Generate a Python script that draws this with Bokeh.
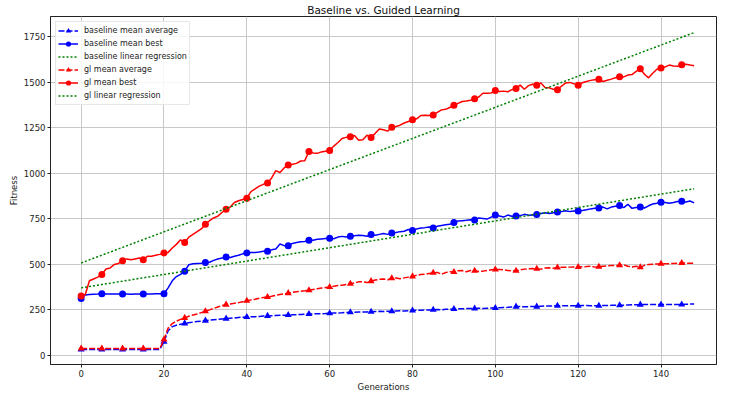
from bokeh.plotting import figure
from bokeh.models import FixedTicker, Range1d
from bokeh.embed import file_html
from bokeh.resources import INLINE

generations = list(range(149))

baseline_mean_average = [
    33, 33, 33, 33, 33, 33, 33, 33, 33, 33, 33, 33, 33, 33, 33, 33, 33, 33, 33, 33,
    75, 135, 158, 166, 171, 176, 180, 183, 186, 188, 191, 194, 196, 198, 200, 202, 204, 206, 208, 210,
    211, 212, 213, 214, 216, 217, 218, 219, 220, 221, 222, 223, 224, 225, 226, 227, 228, 229, 229, 230,
    232, 233, 233, 234, 236, 237, 237, 238, 239, 239, 240, 241, 242, 241, 243, 243, 244, 245, 244, 246,
    247, 248, 248, 249, 250, 251, 252, 251, 253, 254, 255, 256, 256, 257, 257, 258, 259, 258, 259, 260,
    260, 262, 263, 264, 266, 268, 268, 267, 268, 268, 268, 270, 271, 272, 272, 273, 273, 273, 273, 273,
    273, 274, 274, 273, 273, 273, 274, 274, 275, 275, 275, 276, 277, 278, 278, 279, 279, 279, 279, 279,
    279, 280, 280, 280, 280, 280, 281, 282, 282,
]

baseline_mean_best = [
    313, 332, 335, 336, 337, 339, 338, 337, 338, 337, 338, 337, 336, 337, 338, 337, 338, 338, 339, 339,
    339, 371, 410, 433, 445, 463, 498, 503, 505, 506, 510, 512, 522, 530, 535, 540, 538, 545, 550, 558,
    563, 565, 566, 568, 572, 572, 580, 585, 612, 603, 602, 615, 620, 625, 626, 632, 633, 638, 640, 642,
    643, 641, 650, 654, 650, 655, 657, 660, 659, 655, 664, 660, 665, 670, 665, 673, 675, 680, 682, 692,
    686, 695, 700, 702, 705, 700, 710, 714, 718, 720, 730, 738, 740, 742, 745, 744, 755, 752, 749, 760,
    771, 766, 760, 771, 765, 766, 768, 775, 770, 772, 774, 780, 784, 780, 784, 788, 790, 795, 790, 793,
    794, 796, 800, 805, 808, 810, 815, 805, 815, 820, 824, 812, 830, 808, 812, 815, 810, 822, 832, 836,
    842, 840, 836, 840, 845, 847, 843, 848, 838,
]

gl_mean_average = [
    38, 38, 38, 38, 38, 38, 38, 38, 38, 38, 38, 38, 38, 38, 38, 38, 38, 38, 38, 38,
    87, 150, 175, 188, 198, 206, 215, 222, 228, 235, 243, 250, 258, 266, 274, 279, 283, 286, 290, 295,
    300, 305, 309, 314, 318, 321, 325, 330, 334, 338, 342, 346, 350, 353, 355, 358, 362, 366, 370, 373,
    376, 380, 384, 386, 390, 394, 398, 404, 405, 400, 408, 414, 418, 420, 416, 424, 425, 421, 426, 430,
    434, 440, 444, 446, 450, 454, 456, 446, 455, 460, 458, 465, 466, 460, 466, 465, 461, 463, 467, 470,
    472, 472, 470, 467, 464, 465, 470, 474, 476, 477, 476, 474, 480, 481, 479, 483, 484, 484, 485, 486,
    486, 487, 488, 490, 485, 487, 490, 492, 494, 494, 495, 497, 490, 486, 490, 484, 495, 500, 501, 502,
    504, 503, 504, 505, 506, 508, 507, 506, 507,
]

gl_mean_best = [
    327, 335, 410, 420, 430, 445, 475, 480, 500, 505, 520, 530, 525, 530, 535, 525, 545, 545, 550, 555,
    563, 566, 590, 610, 635, 620, 650, 665, 680, 695, 721, 740, 755, 765, 785, 803, 815, 840, 850, 857,
    864, 900, 915, 930, 940, 947, 975, 1015, 1005, 1030, 1046, 1050, 1055, 1068, 1070, 1120, 1112, 1110, 1118, 1122,
    1126, 1150, 1170, 1192, 1198, 1202, 1208, 1182, 1185, 1210, 1197, 1220, 1244, 1240, 1232, 1254, 1258, 1265, 1277, 1285,
    1295, 1300, 1318, 1320, 1318, 1321, 1335, 1349, 1352, 1362, 1375, 1385, 1395, 1398, 1402, 1410, 1420, 1440, 1440, 1442,
    1455, 1450, 1452, 1448, 1460, 1467, 1485, 1462, 1482, 1490, 1484, 1497, 1472, 1470, 1462, 1460, 1480, 1497, 1500, 1492,
    1484, 1498, 1505, 1511, 1515, 1517, 1505, 1512, 1518, 1525, 1531, 1530, 1540, 1543, 1560, 1575, 1545, 1525, 1550, 1572,
    1579, 1585, 1595, 1590, 1588, 1597, 1600, 1595, 1591,
]

# linear regression lines: (intercept, slope)
baseline_regression = (371, 3.68)
gl_regression = (508, 8.55)

x_ticks = [0, 20, 40, 60, 80, 100, 120, 140]
y_ticks = [0, 250, 500, 750, 1000, 1250, 1500, 1750]
marker_step = 5

FONT = "DejaVu Sans"
BLUE = "#0000ff"
RED = "#ff0000"
GREEN = "#008000"

p = figure(
    width=718, height=394, output_backend="svg", toolbar_location=None,
    x_range=Range1d(-7.4, 153.4), y_range=Range1d(-50, 1862),
    title="Baseline vs. Guided Learning",
    min_border_left=50, min_border_right=2, min_border_top=4, min_border_bottom=4,
)
p.background_fill_color = "white"
p.border_fill_color = "white"
p.outline_line_color = "#222222"
p.outline_line_width = 1

p.title.align = "center"
p.title.text_font = FONT
p.title.text_font_size = "10.5px"
p.title.text_font_style = "normal"
p.title.text_color = "#111111"
p.title.standoff = 2

p.xaxis.ticker = FixedTicker(ticks=x_ticks)
p.yaxis.ticker = FixedTicker(ticks=y_ticks)
p.xaxis.axis_label = "Generations"
p.yaxis.axis_label = "Fitness"
for ax in (p.xaxis, p.yaxis):
    ax.axis_label_text_font = FONT
    ax.axis_label_text_font_size = "8.5px"
    ax.axis_label_text_font_style = "normal"
    ax.axis_label_text_color = "#222222"
    ax.major_label_text_font = FONT
    ax.major_label_text_font_size = "8.5px"
    ax.major_label_text_color = "#222222"
    ax.minor_tick_line_color = None
    ax.major_tick_in = 0
    ax.major_tick_out = 3
    ax.major_tick_line_color = "#222222"
    ax.axis_line_color = "#222222"
    ax.major_label_standoff = 2
    ax.axis_label_standoff = 2

p.grid.grid_line_color = "#c8c8c8"
p.grid.grid_line_width = 1

gm = generations[::marker_step]


def reg_line(params):
    a, b = params
    return [a + b * g for g in generations]


DASHED = "6 2"
DOTTED = "2 2"

# baseline mean average
p.line(generations, baseline_mean_average, line_color=BLUE, line_width=1.5, line_dash=DASHED,
       legend_label="baseline mean average")
p.scatter(gm, baseline_mean_average[::marker_step], marker="triangle", size=7, color=BLUE,
          line_width=0, legend_label="baseline mean average")
# baseline mean best
p.line(generations, baseline_mean_best, line_color=BLUE, line_width=1.5,
       legend_label="baseline mean best")
p.scatter(gm, baseline_mean_best[::marker_step], marker="circle", size=7, color=BLUE,
          line_width=0, legend_label="baseline mean best")
# baseline regression
p.line(generations, reg_line(baseline_regression), line_color=GREEN, line_width=1.5, line_dash=DOTTED,
       legend_label="baseline linear regression")
# gl mean average
p.line(generations, gl_mean_average, line_color=RED, line_width=1.5, line_dash=DASHED,
       legend_label="gl mean average")
p.scatter(gm, gl_mean_average[::marker_step], marker="triangle", size=7, color=RED,
          line_width=0, legend_label="gl mean average")
# gl mean best
p.line(generations, gl_mean_best, line_color=RED, line_width=1.5,
       legend_label="gl mean best")
p.scatter(gm, gl_mean_best[::marker_step], marker="circle", size=7, color=RED,
          line_width=0, legend_label="gl mean best")
# gl regression
p.line(generations, reg_line(gl_regression), line_color=GREEN, line_width=1.5, line_dash=DOTTED,
       legend_label="gl linear regression")

lg = p.legend[0]
lg.location = "top_left"
lg.margin = 5
lg.padding = 2
lg.spacing = 0
lg.label_height = 13
lg.glyph_height = 13
lg.glyph_width = 20
lg.label_standoff = 6
lg.label_text_font = FONT
lg.label_text_font_size = "8px"
lg.label_text_color = "#222222"
lg.border_line_color = "#d0d0d0"
lg.background_fill_alpha = 0.85

open("out.html", "w").write(file_html(p, INLINE))
